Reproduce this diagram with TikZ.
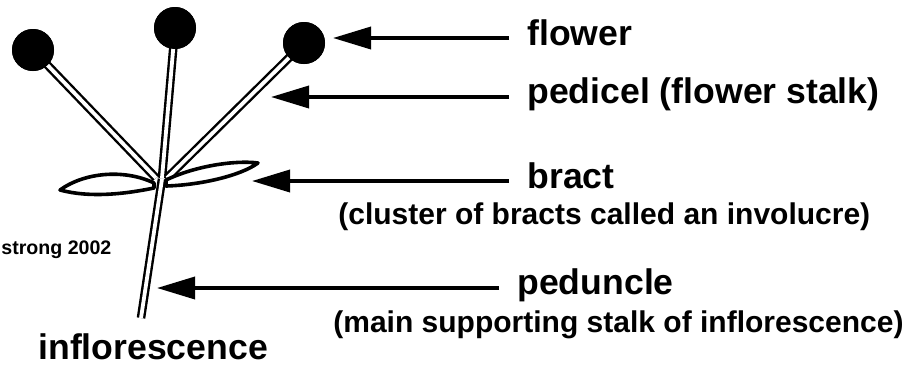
\documentclass[tikz,border=0pt]{standalone}
\usepackage{fontspec}
\setmainfont{Liberation Sans}
\usetikzlibrary{arrows.meta}

\begin{document}
\begin{tikzpicture}[x=0.5pt,y=-0.5pt,
	stem/.style={draw=black,double=white,line width=1.2pt,double distance=1.9pt},
	bractleaf/.style={draw=black,fill=white,line width=1.8pt,line join=round},
	flowerhead/.style={circle,fill=black,minimum size=21pt,inner sep=0pt},
	pointer/.style={-{Triangle[length=19pt,width=11pt]},line width=1.8pt,shorten <=9pt},
	biglabel/.style={anchor=base west,inner sep=0pt,font=\bfseries\fontsize{17.8}{20}\selectfont},
	smalllabel/.style={anchor=base west,inner sep=0pt,font=\bfseries\fontsize{15}{18}\selectfont}]
	\useasboundingbox (0,0) rectangle (903,365);
	% fiori
	\node[flowerhead] (flowerL) at (33,50) {};
	\node[flowerhead] (flowerM) at (175,28) {};
	\node[flowerhead] (flowerR) at (304,43) {};
	% punti di attacco
	\coordinate (jL) at (156,178);
	\coordinate (jM) at (162,178);
	\coordinate (jR) at (167,178);
	\coordinate (pedtop) at (162,179);
	\coordinate (pedbase) at (141,318);
	% peduncolo e pedicelli
	\draw[stem] (pedtop) -- (pedbase);
	\draw[stem] (flowerL.center) -- (jL);
	\draw[stem] (flowerM.center) -- (jM);
	\draw[stem] (flowerR.center) -- (jR);
	% brattee
	\draw[bractleaf] (154,183) .. controls (125,169) and (85,172) .. (60,190) .. controls (90,198) and (125,194) .. (154,188) -- cycle;
	\draw[bractleaf] (166,180) .. controls (195,166) and (235,160) .. (258,163) .. controls (240,176) and (200,185) .. (166,186) -- cycle;
	\node[flowerhead] at (flowerL) {};
	\node[flowerhead] at (flowerM) {};
	\node[flowerhead] at (flowerR) {};
	% etichette
	\node[biglabel] (flowerlbl) at (527,45) {flower};
	\node[biglabel] (pedicellbl) at (527,103) {pedicel (flower stalk)};
	\node[biglabel] (bractlbl) at (527,188) {bract};
	\node[smalllabel] (bractnote) at (338,224) {(cluster of bracts called an involucre)};
	\node[biglabel] (pedunclelbl) at (517,294) {peduncle};
	\node[smalllabel] (pedunclenote) at (333,332) {(main supporting stalk of inflorescence)};
	\node[biglabel] (inflorlbl) at (38,359) {inflorescence};
	\node[anchor=base west,inner sep=0pt,font=\bfseries\fontsize{9.8}{11}\selectfont] (credit) at (1,254) {strong 2002};
	% frecce
	\coordinate (tipflower) at (333,38);
	\coordinate (tippedicel) at (271,97);
	\coordinate (tipbract) at (252,181);
	\coordinate (tippeduncle) at (157,288);
	\draw[pointer] (tipflower -| flowerlbl.west) -- (tipflower);
	\draw[pointer] (tippedicel -| pedicellbl.west) -- (tippedicel);
	\draw[pointer] (tipbract -| bractlbl.west) -- (tipbract);
	\draw[pointer] (tippeduncle -| pedunclelbl.west) -- (tippeduncle);
\end{tikzpicture}
\end{document}
